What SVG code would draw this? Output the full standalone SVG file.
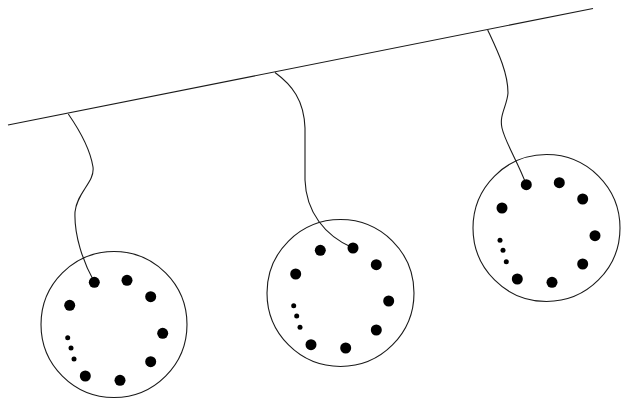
<svg xmlns="http://www.w3.org/2000/svg" width="621" height="400" viewBox="0 0 621 400">
<style>
.ln{fill:none;stroke:#1a1a1a;stroke-width:1.1}
.ring{fill:none;stroke:#1a1a1a;stroke-width:1.1}
.d{fill:#000}
</style>
<rect width="621" height="400" fill="#fff"/>
<g id="bus">
<line class="ln" x1="8" y1="125" x2="593" y2="8.5"/>
</g>
<g id="connectors">
<path class="ln" d="M68.3,114 C78,128 90,148 93,167 C95,182 77,192 75,212 C74,235 83,262 94.3,282"/>
<path class="ln" d="M275,72.5 C292,85 304,100 305,128 L305,180 C306,212 325,236 353,248"/>
<path class="ln" d="M487.7,30 C497,50 508,72 508,93 C507,106 499,115 502,128 C505,142 518,162 526.3,184.7"/>
</g>
<g id="node1">
<circle class="ring" cx="114" cy="324.5" r="73"/>
<circle class="d" cx="94.3" cy="282.3" r="5.5"/>
<circle class="d" cx="127" cy="280.3" r="5.5"/>
<circle class="d" cx="150.7" cy="296.7" r="5.5"/>
<circle class="d" cx="162.7" cy="333.3" r="5.5"/>
<circle class="d" cx="150.7" cy="361.7" r="5.5"/>
<circle class="d" cx="120" cy="380.3" r="5.5"/>
<circle class="d" cx="85.3" cy="376" r="5.5"/>
<circle class="d" cx="69.7" cy="305.3" r="5.5"/>
<circle class="d" cx="67.7" cy="337.7" r="2.5"/>
<circle class="d" cx="71" cy="348" r="2.5"/>
<circle class="d" cx="74" cy="359" r="2.5"/>
</g>
<g id="node2">
<circle class="ring" cx="340.5" cy="293" r="73.5"/>
<circle class="d" cx="320.3" cy="250.3" r="5.5"/>
<circle class="d" cx="353" cy="248" r="5.5"/>
<circle class="d" cx="376.3" cy="264.7" r="5.5"/>
<circle class="d" cx="388.7" cy="301" r="5.5"/>
<circle class="d" cx="376.3" cy="330" r="5.5"/>
<circle class="d" cx="345.7" cy="348" r="5.5"/>
<circle class="d" cx="311" cy="344.7" r="5.5"/>
<circle class="d" cx="295.7" cy="274" r="5.5"/>
<circle class="d" cx="293.7" cy="305.7" r="2.5"/>
<circle class="d" cx="296.7" cy="316" r="2.5"/>
<circle class="d" cx="300" cy="327.3" r="2.5"/>
</g>
<g id="node3">
<circle class="ring" cx="546.5" cy="228" r="73.5"/>
<circle class="d" cx="526.3" cy="184.7" r="5.5"/>
<circle class="d" cx="559.3" cy="182.7" r="5.5"/>
<circle class="d" cx="582.7" cy="199" r="5.5"/>
<circle class="d" cx="595" cy="235.7" r="5.5"/>
<circle class="d" cx="582.7" cy="264" r="5.5"/>
<circle class="d" cx="552" cy="282.3" r="5.5"/>
<circle class="d" cx="517.3" cy="279" r="5.5"/>
<circle class="d" cx="502" cy="208" r="5.5"/>
<circle class="d" cx="500" cy="240.3" r="2.5"/>
<circle class="d" cx="503" cy="250.3" r="2.5"/>
<circle class="d" cx="506.3" cy="261.7" r="2.5"/>
</g>
</svg>
